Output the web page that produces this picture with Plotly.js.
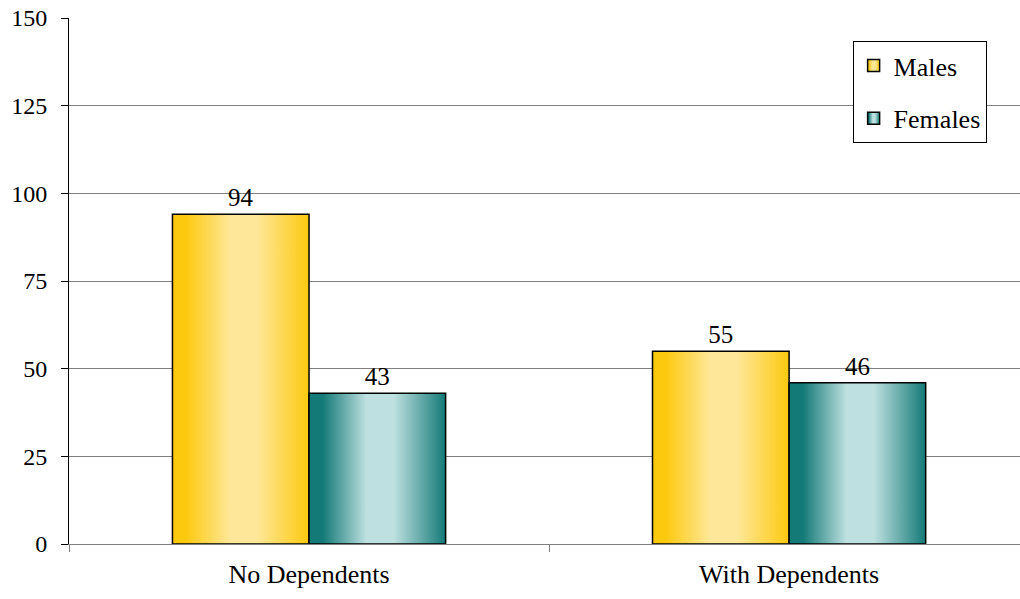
<!DOCTYPE html>
<html>
<head>
<meta charset="utf-8">
<script src="https://cdn.plot.ly/plotly-3.0.1.min.js"></script>
<style>
  html, body { margin: 0; padding: 0; background: #fff; }
  #chart { width: 1020px; height: 599px; }
</style>
</head>
<body>
<div id="chart"></div>
<script>
const categories = ["No Dependents", "With Dependents"];
const males = [94, 55];
const females = [43, 46];
const seriesNames = ["Males", "Females"];
const yTicks = [0, 25, 50, 75, 100, 125, 150];

const gradients = [
  { id: "gradMales", edge: "#FDC90F", mid: "#FEE798" },
  { id: "gradFemales", edge: "#137A77", mid: "#BEE0E0" }
];

const font = "Liberation Serif, Times New Roman, DejaVu Serif, serif";

const traces = [
  {
    type: "bar", name: seriesNames[0], x: categories, y: males,
    text: males.map(String), textposition: "outside", cliponaxis: false,
    textfont: { family: font, size: 25, color: "#000" },
    marker: { color: gradients[0].edge, line: { color: "#000", width: 1.5 } },
    legendgroup: "m", hoverinfo: "skip"
  },
  {
    type: "bar", name: seriesNames[1], x: categories, y: females,
    text: females.map(String), textposition: "outside", cliponaxis: false,
    textfont: { family: font, size: 25, color: "#000" },
    marker: { color: gradients[1].edge, line: { color: "#000", width: 1.5 } },
    legendgroup: "f", hoverinfo: "skip"
  }
];

const layout = {
  width: 1020, height: 599,
  margin: { l: 69, r: 0, t: 18, b: 55 },
  paper_bgcolor: "#fff", plot_bgcolor: "#fff",
  font: { family: font, size: 23, color: "#000" },
  barmode: "group", bargap: 0.431, bargroupgap: 0,
  showlegend: true,
  legend: {
    x: 0.824, y: 0.956, xanchor: "left", yanchor: "top",
    bgcolor: "#fff", bordercolor: "#000", borderwidth: 1,
    font: { family: font, size: 26, color: "#000" },
    traceorder: "grouped", tracegroupgap: 16,
    itemclick: false, itemdoubleclick: false
  },
  xaxis: {
    type: "category", range: [-0.5, 1.481],
    tickson: "boundaries", ticks: "outside", ticklen: 7, tickcolor: "#808080",
    showline: true, linecolor: "#808080", linewidth: 1,
    showgrid: false, zeroline: false, ticklabelstandoff: 7,
    tickfont: { family: font, size: 26, color: "#000" },
    fixedrange: true
  },
  yaxis: {
    range: [0, 150], tickvals: yTicks, ticktext: yTicks.map(String),
    ticks: "outside", ticklen: 7, tickcolor: "#000",
    showline: true, linecolor: "#000", linewidth: 1,
    showgrid: true, gridcolor: "#808080", gridwidth: 1,
    zeroline: false, ticklabelstandoff: 9,
    tickfont: { family: font, size: 24, color: "#000" },
    fixedrange: true
  }
};

function applyGradients(gd) {
  const svg = gd.querySelector("svg.main-svg");
  const ns = "http://www.w3.org/2000/svg";
  let defs = svg.querySelector("defs");
  if (!defs) { defs = document.createElementNS(ns, "defs"); svg.insertBefore(defs, svg.firstChild); }
  gradients.forEach(g => {
    if (document.getElementById(g.id)) return;
    const lg = document.createElementNS(ns, "linearGradient");
    lg.setAttribute("id", g.id);
    lg.setAttribute("x1", "0"); lg.setAttribute("y1", "0");
    lg.setAttribute("x2", "1"); lg.setAttribute("y2", "0");
    [[0, g.edge], [0.1, g.edge], [0.42, g.mid], [0.62, g.mid], [1, g.edge]].forEach(([o, c]) => {
      const s = document.createElementNS(ns, "stop");
      s.setAttribute("offset", o);
      s.setAttribute("stop-color", c);
      lg.appendChild(s);
    });
    defs.appendChild(lg);
  });
  const barTraces = gd.querySelectorAll(".barlayer .trace");
  barTraces.forEach((t, i) => {
    t.querySelectorAll(".point path").forEach(p => { p.style.fill = "url(#" + gradients[i].id + ")"; });
  });
  const legTraces = gd.querySelectorAll(".legend .traces");
  legTraces.forEach((t, i) => {
    t.querySelectorAll(".legendpoints path").forEach(p => { p.style.fill = "url(#" + gradients[i].id + ")"; });
  });
}

const gd = document.getElementById("chart");
Plotly.newPlot(gd, traces, layout, { staticPlot: true, displayModeBar: false }).then(() => applyGradients(gd));
</script>
</body>
</html>
